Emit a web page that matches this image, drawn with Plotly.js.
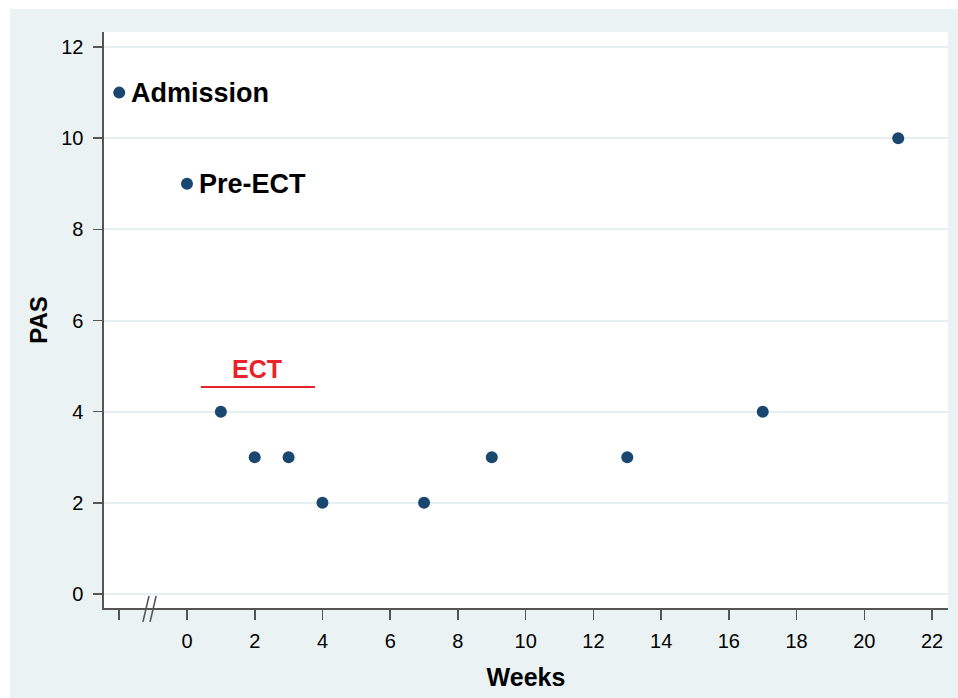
<!DOCTYPE html>
<html>
<head>
<meta charset="utf-8">
<script src="https://cdn.plot.ly/plotly-3.0.1.min.js"></script>
<style>
  html, body { margin: 0; padding: 0; background: #ffffff; }
  #chart { position: absolute; left: 10px; top: 9px; width: 948px; height: 689px; }
</style>
</head>
<body>
<div id="chart"></div>
<script>
// Data
const weeks = [-2, 0, 1, 2, 3, 4, 7, 9, 13, 17, 21];
const pas = [11, 9, 4, 3, 3, 2, 2, 3, 3, 4, 10];
const xTickVals = [-2, 0, 2, 4, 6, 8, 10, 12, 14, 16, 18, 20, 22];
const xTickText = ['', '0', '2', '4', '6', '8', '10', '12', '14', '16', '18', '20', '22'];
const yTickVals = [0, 2, 4, 6, 8, 10, 12];
const labels = [
  {text: 'Admission', x: -1.71, y: 11},
  {text: 'Pre-ECT', x: 0.29, y: 9}
];
const ectSpan = {x0: 0.41, x1: 3.78, y: 4.54, labelX: 2.07, labelY: 4.94};
const breakMarks = [-1.21, -1.0];

const font = 'Liberation Sans, Arial, sans-serif';

const trace = {
  x: weeks, y: pas, type: 'scatter', mode: 'markers',
  marker: {color: '#1a476f', size: 12},
  hoverinfo: 'skip', showlegend: false
};

const annotations = labels.map(l => ({
  x: l.x, y: l.y, xref: 'x', yref: 'y', text: '<b>' + l.text + '</b>',
  showarrow: false, xanchor: 'left', yanchor: 'middle',
  font: {family: font, size: 27, color: '#000000'}
}));
annotations.push({
  x: ectSpan.labelX, y: ectSpan.labelY, xref: 'x', yref: 'y', text: '<b>ECT</b>',
  showarrow: false, xanchor: 'center', yanchor: 'middle',
  font: {family: font, size: 25, color: '#e8242b'}
});

const shapes = [{
  type: 'line', xref: 'x', yref: 'y',
  x0: ectSpan.x0, x1: ectSpan.x1, y0: ectSpan.y, y1: ectSpan.y,
  line: {color: '#e8242b', width: 2}
}];
breakMarks.forEach(bx => {
  shapes.push({
    type: 'line', xref: 'x', yref: 'paper',
    x0: bx - 0.09, x1: bx + 0.09, y0: -0.024, y1: 0.021,
    line: {color: '#555555', width: 1.6}
  });
});

const layout = {
  width: 948, height: 689,
  margin: {l: 94, r: 10, t: 23, b: 90},
  paper_bgcolor: '#eaf2f3',
  plot_bgcolor: '#ffffff',
  font: {family: font, color: '#000000'},
  showlegend: false,
  xaxis: {
    range: [-2.45, 22.47], tickvals: xTickVals, ticktext: xTickText,
    showgrid: false, zeroline: false,
    showline: true, linecolor: '#555555', linewidth: 1.6,
    ticks: 'outside', ticklen: 10, tickwidth: 1.6, tickcolor: '#555555',
    tickfont: {family: font, size: 20, color: '#000000'},
    ticklabelstandoff: 4,
    title: {text: '<b>Weeks</b>', font: {family: font, size: 25, color: '#000000'}, standoff: 18},
    fixedrange: true
  },
  yaxis: {
    range: [-0.307, 12.33], tickvals: yTickVals,
    showgrid: true, gridcolor: '#e6eff1', gridwidth: 2,
    zeroline: false,
    showline: true, linecolor: '#555555', linewidth: 1.6,
    ticks: 'outside', ticklen: 9, tickwidth: 1.6, tickcolor: '#555555',
    tickfont: {family: font, size: 20, color: '#000000'},
    ticklabelstandoff: 6,
    title: {text: '<b>PAS</b>', font: {family: font, size: 24, color: '#000000'}, standoff: 7},
    fixedrange: true
  },
  annotations: annotations,
  shapes: shapes
};

Plotly.newPlot('chart', [trace], layout, {displayModeBar: false, staticPlot: true});
</script>
</body>
</html>
